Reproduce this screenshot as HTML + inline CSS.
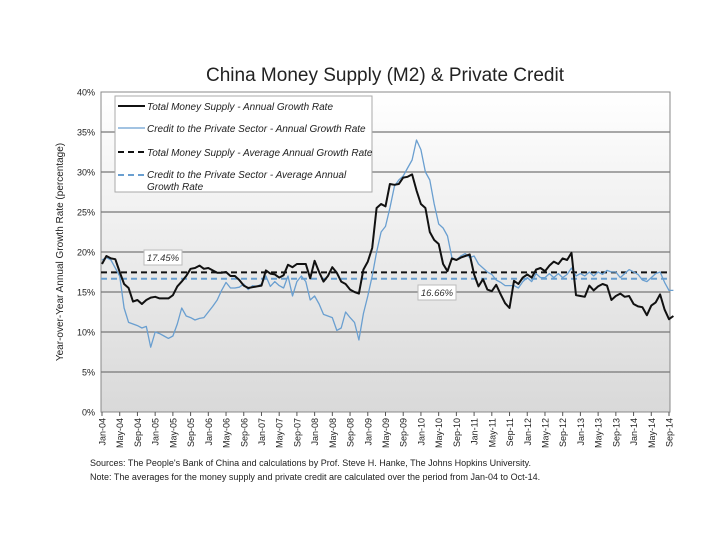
<!DOCTYPE html>
<html><head><meta charset="utf-8"><style>
body{margin:0;background:#fff;font-family:"Liberation Sans",sans-serif;}
svg text{font-family:"Liberation Sans",sans-serif;}
</style></head><body>
<svg id="chart" width="720" height="540" viewBox="0 0 720 540">
<defs><linearGradient id="bg" x1="0" y1="0" x2="0" y2="1"><stop offset="0" stop-color="#ffffff"/><stop offset="1" stop-color="#d9d9d9"/></linearGradient></defs>
<text x="385" y="81" font-size="19" text-anchor="middle" fill="#222">China Money Supply (M2) &amp; Private Credit</text>
<rect x="101" y="92" width="569" height="320" fill="url(#bg)" stroke="#888"/>
<g id="grid"></g><g id="yticks"></g><g id="xticks"></g><g id="series"></g>
<text transform="translate(63,252) rotate(-90)" font-size="10" text-anchor="middle" fill="#222">Year-over-Year Annual Growth Rate (percentage)</text>
<g>
<rect x="115" y="96" width="257" height="96" fill="#fff" stroke="#aaa"/>
<line x1="118" y1="106" x2="145" y2="106" stroke="#111" stroke-width="2"/>
<text x="147" y="110" font-size="10" font-style="italic" fill="#222">Total Money Supply - Annual Growth Rate</text>
<line x1="118" y1="128" x2="145" y2="128" stroke="#6a9fd0" stroke-width="1.3"/>
<text x="147" y="132" font-size="10" font-style="italic" fill="#222">Credit to the Private Sector - Annual Growth Rate</text>
<line x1="118" y1="152" x2="145" y2="152" stroke="#111" stroke-width="2" stroke-dasharray="6,4"/>
<text x="147" y="156" font-size="10" font-style="italic" fill="#222">Total Money Supply - Average Annual Growth Rate</text>
<line x1="118" y1="175" x2="145" y2="175" stroke="#6a9fd0" stroke-width="2" stroke-dasharray="6,4"/>
<text x="147" y="178" font-size="10" font-style="italic" fill="#222">Credit to the Private Sector - Average Annual</text>
<text x="147" y="190" font-size="10" font-style="italic" fill="#222">Growth Rate</text>
</g>
<text x="90" y="466" font-size="9" fill="#222">Sources: The People's Bank of China and calculations by Prof. Steve H. Hanke, The Johns Hopkins University.</text>
<text x="90" y="480" font-size="9" fill="#222">Note: The averages for the money supply and private credit are calculated over the period from Jan-04 to Oct-14.</text>
</svg>
<script>
const m2Growth=[18.5,19.5,19.2,19.1,17.5,16,15.5,13.8,14,13.5,14,14.3,
14.4,14.2,14.2,14.2,14.6,15.7,16.3,17,17.9,18,18.3,17.9,
18,17.7,17.4,17.4,17.5,17,17,16.5,15.8,15.5,15.6,15.7,
15.8,17.7,17.3,17.2,16.8,17.1,18.4,18.1,18.5,18.5,18.5,16.7,
18.9,17.5,16.3,17,18.1,17.4,16.3,16,15.3,15,14.8,17.8,
18.8,20.5,25.5,26,25.7,28.5,28.4,28.5,29.3,29.4,29.7,27.7,
26,25.5,22.5,21.5,21,18.5,17.6,19.2,19,19.3,19.5,19.7,
17.2,15.7,16.6,15.3,15.1,15.9,14.7,13.6,13.0,16.4,16.0,16.8,
17.2,16.8,17.8,18.0,17.6,18.3,18.8,18.5,19.2,19.0,19.9,14.6,
14.5,14.4,15.8,15.2,15.7,16.0,15.8,14.0,14.5,14.8,14.4,14.5,
13.5,13.2,13.1,12.1,13.3,13.7,14.7,12.8,11.6,12.0];
const creditGrowth=[19,19.3,19,18,17,13,11.2,11,10.8,10.5,10.7,8.1,
10,9.8,9.5,9.2,9.5,11,13,12,11.8,11.5,11.7,11.8,
12.5,13.2,14,15.2,16.2,15.5,15.5,15.6,16,15.3,15.8,15.7,
16,17,15.7,16.3,15.8,15.5,17,14.5,16.3,17,16.3,14,
14.5,13.5,12.2,12,11.8,10.2,10.5,12.5,11.8,11.2,9,12.3,
14.5,17,20,22.5,23.2,25.5,28.2,29,29.5,30.5,31.5,34,
32.8,30,29,26,23.5,23,22,19.3,19,19.5,19.8,19.3,
19.5,18.5,18,17.5,17.2,16.5,16.2,15.8,15.8,15.8,15.5,16.3,
16.8,16.3,17.3,16.8,16.8,17.3,16.8,17.3,16.8,17.2,18,17,
17.3,17,17.5,17,17.5,17.2,17.7,17.5,17.5,16.8,17.3,17.8,
17.5,17.2,16.5,16.3,16.8,17.3,17.5,16.2,15.2,15.2];
const m2Average=17.45;
const creditAverage=16.66;
const yTicks=[0,5,10,15,20,25,30,35,40];
const monthNames=["Jan","Feb","Mar","Apr","May","Jun","Jul","Aug","Sep","Oct","Nov","Dec"];
const NS="http://www.w3.org/2000/svg";
const X0=102,X1=669,Y0=412,Y1=92;
const xs=i=>X0+(X1-X0)*i/128;
const ys=v=>Y0-(Y0-Y1)*v/40;
function mk(t,a,p){const e=document.createElementNS(NS,t);for(const k in a)e.setAttribute(k,a[k]);p.appendChild(e);return e;}
const grid=document.getElementById('grid'),yt=document.getElementById('yticks'),xt=document.getElementById('xticks'),se=document.getElementById('series');
yTicks.forEach(v=>{
 if(v>0&&v<40){const l=mk('line',{x1:101,x2:670,y1:ys(v),y2:ys(v),stroke:'#777','stroke-width':1.2},grid);
 
 }
 const t=mk('text',{x:95,y:ys(v)+3.5,'font-size':9,'text-anchor':'end',fill:'#222'},yt);t.textContent=v+'%';
 
 
});
for(let i=0;i<m2Growth.length;i+=4){
 const lbl=monthNames[i%12]+'-'+String(4+Math.floor(i/12)).padStart(2,'0');
 mk('line',{x1:xs(i),x2:xs(i),y1:412,y2:416,stroke:'#555'},xt);
 const t=mk('text',{transform:`translate(${xs(i)+3.5},418) rotate(-90)`,'font-size':9,'text-anchor':'end',fill:'#222'},xt);
 t.textContent=lbl;
 
 
}
function line(arr,color,w,name){
 const d=arr.map((v,i)=>(i?'L':'M')+xs(i).toFixed(1)+','+ys(v).toFixed(1)).join('');
 const p=mk('path',{d:d,fill:'none',stroke:color,'stroke-width':w,'stroke-linejoin':'round'},se);
 
 
}
function avg(v,color,name){
 const l=mk('line',{x1:101,x2:670,y1:ys(v),y2:ys(v),stroke:color,'stroke-width':2,'stroke-dasharray':'6,4'},se);
 
 
}
avg(creditAverage,'#6a9fd0','credit-average-line');
avg(m2Average,'#111','m2-average-line');
line(creditGrowth,'#6a9fd0',1.3,'credit-growth-line');
line(m2Growth,'#111',2,'m2-growth-line');
function lab(v,x,y,name){
 const g=mk('g',{},se);
 
 
 mk('rect',{x:x,y:y,width:38,height:15,fill:'#fff',stroke:'#bbb'},g);
 const t=mk('text',{x:x+19,y:y+11,'font-size':9.5,'font-style':'italic','text-anchor':'middle',fill:'#333'},g);
 t.textContent=v.toFixed(2)+'%';
}
lab(m2Average,144,250,'m2-average-label');
lab(creditAverage,418,285,'credit-average-label');
</script>
</body></html>
